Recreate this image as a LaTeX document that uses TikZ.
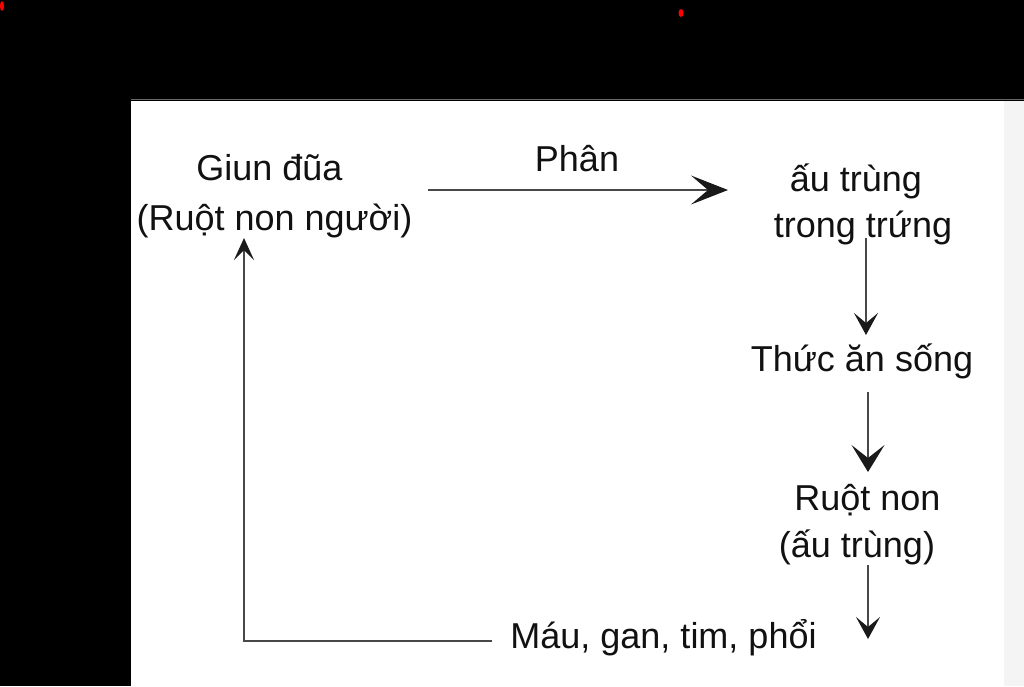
\documentclass[tikz,border=0pt]{standalone}
\usepackage{fontspec}
\setmainfont{Liberation Sans}
\usetikzlibrary{arrows.meta}
\definecolor{linecol}{HTML}{484848}
\definecolor{tipcol}{HTML}{1A1A1A}
\definecolor{txtcol}{HTML}{111111}
\definecolor{stripcol}{HTML}{F4F4F4}
\tikzset{
  lbl/.style={inner sep=0pt, outer sep=0pt, anchor=base, align=center, text=txtcol,
    font=\fontsize{36}{48}\selectfont},
  conn/.style={draw=linecol, line width=1.6pt},
  headA/.style={-{Stealth[length=37pt,width=29pt,inset=17pt,color=tipcol]}},
  headS/.style={-{Stealth[length=22pt,width=24pt,inset=10pt,color=tipcol]}},
  headM/.style={-{Stealth[length=27pt,width=33pt,inset=13pt,color=tipcol]}},
  headU/.style={-{Stealth[length=22pt,width=20pt,inset=10pt,color=tipcol]}},
}
\begin{document}
\begin{tikzpicture}[x=1pt,y=-1pt]
\useasboundingbox (0,0) rectangle (1024,686);
% background
\fill[black] (0,0) rectangle (1024,686);
\fill[white] (131,101) rectangle (1004,686);
\fill[stripcol] (1004,101) rectangle (1024,686);
\draw[black!60!white, line width=0.8pt] (131,99.6) -- (1024,99.6);
\fill[red] (681,13) ellipse [x radius=2.5, y radius=4];
\fill[red] (2,6) ellipse [x radius=2, y radius=5];
% nodes (base = baseline of last line)
\node[lbl, font=\fontsize{36}{50}\selectfont] (giun) at (272,230)
  {Giun đũa\hspace*{5pt}\\\hspace*{5pt}(Ruột non người)};
\node[lbl] (phan) at (577,171) {Phân};
\node[lbl, font=\fontsize{36}{46}\selectfont] (trung) at (860,237)
  {ấu trùng\hspace*{8pt}\\\hspace*{6pt}trong trứng};
\node[lbl] (thuc) at (862,371) {Thức ăn sống};
\node[lbl, font=\fontsize{36}{47}\selectfont] (ruot) at (862,557)
  {\hspace*{11pt}Ruột non\\(ấu trùng)\hspace*{10pt}};
\node[lbl] (mau) at (663.5,648) {Máu, gan, tim, phổi};
% connectors
\draw[conn, headA] ([shift={(156,-40)}]giun.base) -- ([shift={(-132,-47)}]trung.base);
\draw[conn, headS] ([shift={(6,1)}]trung.base) -- ([shift={(4,-36)}]thuc.base);
\draw[conn, headM] ([shift={(6,21)}]thuc.base) -- ([shift={(6,-85)}]ruot.base);
\draw[conn, headS] ([shift={(6,8)}]ruot.base) -- ([shift={(204.5,-9)}]mau.base);
\draw[conn, headU] ([shift={(-171.5,-7)}]mau.base) -| ([shift={(-28,8)}]giun.base);
\end{tikzpicture}
\end{document}
